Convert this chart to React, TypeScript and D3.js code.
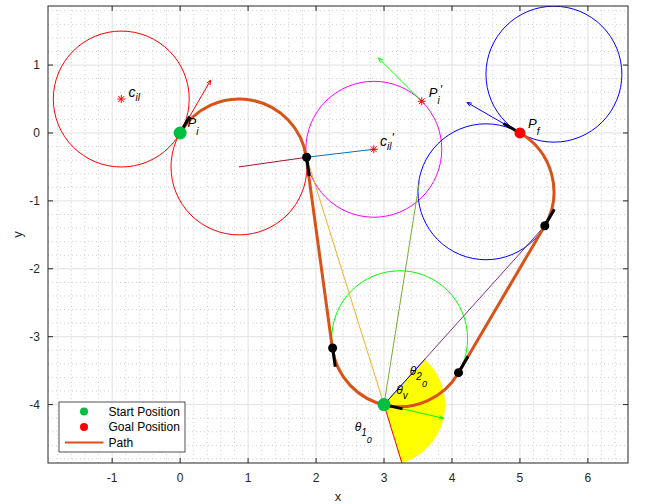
import React from 'react';
import * as d3 from 'd3';

// axis ticks
const xTicks = [-1, 0, 1, 2, 3, 4, 5, 6];
const yTicks = [-4, -3, -2, -1, 0, 1];

// turning circles (centre x, centre y, radius)
const circleNames = ['startLeft', 'startRight', 'inter', 'via', 'goalLower', 'goalUpper'];
const circleCx = [-0.866, 0.866, 2.85, 3.23, 4.5, 5.5];
const circleCy = [0.5, -0.5, -0.24, -3.03, -0.866, 0.866];
const circleR = [1, 1, 1, 1, 1, 1];

// path: arcs joined by straight tangent segments (angles in degrees)
const arcCx = [0.866, 3.23, 4.5];
const arcCy = [-0.5, -3.03, -0.866];
const arcR = [1, 1, 1];
const arcFrom = [150, 187.8, -30];
const arcTo = [8.1, 330, 60];
const arcCcw = [false, true, true];

// tangent points on the path
const tangentX = [1.861, 2.244, 4.096, 5.366];
const tangentY = [-0.358, -3.166, -3.53, -1.366];

// heading ticks along the path
const headX = [0, 1.861, 2.244, 3, 4.096, 5.366, 5];
const headY = [0, -0.358, -3.166, -4, -3.53, -1.366, 0];
const headDeg = [60, -82, -82, -13, 60, 60, 150];

// quiver arrows (origin, angle)
const arrowNames = ['pi', 'piPrime', 'pf', 'via'];
const arrowX = [0, 3.555, 5, 3];
const arrowY = [0, 0.467, 0, -4];
const arrowDeg = [60, 135, 150, -13];
const arrowLen = 0.9;

// construction segments
const segNames = ['radius', 'centre', 'toVia', 'olive', 'toGoal'];
const segX1 = [0.866, 1.861, 1.861, 3, 3];
const segY1 = [-0.5, -0.358, -0.358, -4, -4];
const segX2 = [1.861, 2.85, 3, 3.52, 5.366];
const segY2 = [-0.358, -0.24, -4, -0.72, -1.366];

// angle wedge at the via point
const wedgeCx = 3;
const wedgeCy = -4;
const wedgeR = 0.9;
const wedgeFrom = -73;
const wedgeTo = 48;

// asterisk markers
const starX = [-0.866, 2.85, 3.555];
const starY = [0.5, -0.24, 0.467];

const startPos = [0, 0];
const goalPos = [5, 0];
const viaPos = [3, -4];

const W = 645;
const H = 504;
const L = 48, T = 6, R = 628, B = 463;
const FONT = '"Liberation Sans", Arial, Helvetica, sans-serif';

const circleColor: Record<string, string> = {
  startLeft: '#ff0000', startRight: '#ff0000', inter: '#ff00ff',
  via: '#00ff00', goalLower: '#0000ff', goalUpper: '#0000ff',
};
const arrowColor: Record<string, string> = {
  pi: '#ff0000', piPrime: '#00ff00', pf: '#0000ff', via: '#00ff00',
};
const segColor: Record<string, string> = {
  radius: '#A2142F', centre: '#0072BD', toVia: '#EDB120', olive: '#77AC30', toGoal: '#7E2F8E',
};

const rad = (d: number) => (d * Math.PI) / 180;

export default function App() {
  const x = d3.scaleLinear().domain([-1.944, 6.59]).range([L, R]);
  const y = d3.scaleLinear().domain([-4.86, 1.87]).range([B, T]);
  const k = x(1) - x(0);

  const minorX = d3.range(-1.8, 6.6, 0.2).filter(v => Math.abs(v - Math.round(v)) > 1e-6);
  const minorY = d3.range(-4.8, 1.87, 0.2).filter(v => Math.abs(v - Math.round(v)) > 1e-6);

  const p = d3.path();
  p.moveTo(x(startPos[0]), y(startPos[1]));
  arcCx.forEach((cx, i) => {
    p.arc(x(cx), y(arcCy[i]), arcR[i] * k, -rad(arcFrom[i]), -rad(arcTo[i]), arcCcw[i]);
  });

  const wedge = d3.path();
  wedge.moveTo(x(wedgeCx), y(wedgeCy));
  wedge.arc(x(wedgeCx), y(wedgeCy), wedgeR * k, -rad(wedgeFrom), -rad(wedgeTo), true);
  wedge.closePath();

  const star = (cx: number, cy: number, key: number) => {
    const s = 4;
    const d = 2.9;
    return (
      <g key={key} stroke="#ff0000" strokeWidth={1}>
        <line x1={cx - s} y1={cy} x2={cx + s} y2={cy} />
        <line x1={cx} y1={cy - s} x2={cx} y2={cy + s} />
        <line x1={cx - d} y1={cy - d} x2={cx + d} y2={cy + d} />
        <line x1={cx - d} y1={cy + d} x2={cx + d} y2={cy - d} />
      </g>
    );
  };

  const label = (tx: number, ty: number, parts: [string, number, number][], key: string) => (
    <text key={key} x={x(tx)} y={y(ty)} fontFamily={FONT} fontStyle="italic" fill="#000">
      {parts.map(([s, size, dy], i) => (
        <tspan key={i} fontSize={size} dy={dy}>{s}</tspan>
      ))}
    </text>
  );

  return (
    <svg width={W} height={H} style={{ position: 'absolute', left: 0, top: 0, background: '#fff' }}>
      <defs>
        <clipPath id="plotClip">
          <rect x={L} y={T} width={R - L} height={B - T} />
        </clipPath>
      </defs>
      <rect x={0} y={0} width={W} height={H} fill="#fff" />

      {/* grid */}
      <g>
        {minorX.map((v, i) => (
          <line key={'mx' + i} x1={x(v)} x2={x(v)} y1={T} y2={B} stroke="#c4c4c4" strokeWidth={0.8} strokeDasharray="1,3" />
        ))}
        {minorY.map((v, i) => (
          <line key={'my' + i} x1={L} x2={R} y1={y(v)} y2={y(v)} stroke="#c4c4c4" strokeWidth={0.8} strokeDasharray="1,3" />
        ))}
        {xTicks.map(v => (
          <line key={'gx' + v} x1={x(v)} x2={x(v)} y1={T} y2={B} stroke="#e1e1e1" strokeWidth={1} />
        ))}
        {yTicks.map(v => (
          <line key={'gy' + v} x1={L} x2={R} y1={y(v)} y2={y(v)} stroke="#e1e1e1" strokeWidth={1} />
        ))}
      </g>

      <g clipPath="url(#plotClip)">
        {/* circles */}
        {circleNames.map((n, i) => (
          <circle key={n} cx={x(circleCx[i])} cy={y(circleCy[i])} r={circleR[i] * k}
            fill="none" stroke={circleColor[n]} strokeWidth={1} />
        ))}

        {/* construction segments */}
        {segNames.map((n, i) => (
          <line key={n} x1={x(segX1[i])} y1={y(segY1[i])} x2={x(segX2[i])} y2={y(segY2[i])}
            stroke={segColor[n]} strokeWidth={1} />
        ))}

        {/* wedge */}
        <path d={wedge.toString()} fill="#ffff00" stroke="none" />
        <line x1={x(wedgeCx)} y1={y(wedgeCy)}
          x2={x(wedgeCx + wedgeR * Math.cos(rad(wedgeFrom)))} y2={y(wedgeCy + wedgeR * Math.sin(rad(wedgeFrom)))}
          stroke="#ff0000" strokeWidth={1} />
        <line x1={x(wedgeCx)} y1={y(wedgeCy)}
          x2={x(wedgeCx + wedgeR * Math.cos(rad(wedgeTo)))} y2={y(wedgeCy + wedgeR * Math.sin(rad(wedgeTo)))}
          stroke="#0000ff" strokeWidth={1} />

        {/* quiver arrows */}
        {arrowNames.map((n, i) => {
          const x0 = x(arrowX[i]);
          const y0 = y(arrowY[i]);
          const x1 = x(arrowX[i] + arrowLen * Math.cos(rad(arrowDeg[i])));
          const y1 = y(arrowY[i] + arrowLen * Math.sin(rad(arrowDeg[i])));
          const a = Math.atan2(y1 - y0, x1 - x0);
          const h = 5;
          const s = rad(22);
          return (
            <g key={n} stroke={arrowColor[n]} strokeWidth={1} fill="none">
              <line x1={x0} y1={y0} x2={x1} y2={y1} />
              <polyline points={`${x1 - h * Math.cos(a - s)},${y1 - h * Math.sin(a - s)} ${x1},${y1} ${x1 - h * Math.cos(a + s)},${y1 - h * Math.sin(a + s)}`} />
            </g>
          );
        })}

        {/* path */}
        <path d={p.toString()} fill="none" stroke="#D95319" strokeWidth={3} />

        {/* heading ticks */}
        {headX.map((hx, i) => (
          <line key={'h' + i} x1={x(hx)} y1={y(headY[i])}
            x2={x(hx + 0.28 * Math.cos(rad(headDeg[i])))} y2={y(headY[i] + 0.28 * Math.sin(rad(headDeg[i])))}
            stroke="#000" strokeWidth={3} />
        ))}

        {/* tangent points */}
        {tangentX.map((tx, i) => (
          <circle key={'t' + i} cx={x(tx)} cy={y(tangentY[i])} r={4.5} fill="#000" />
        ))}

        {/* asterisks */}
        {starX.map((sx, i) => star(x(sx), y(starY[i]), i))}

        {/* start / goal */}
        <circle cx={x(startPos[0])} cy={y(startPos[1])} r={6.5} fill="#00bf40" />
        <circle cx={x(viaPos[0])} cy={y(viaPos[1])} r={6.5} fill="#00bf40" />
        <circle cx={x(goalPos[0])} cy={y(goalPos[1])} r={5.5} fill="#ff0000" />

        {/* labels */}
        {label(-0.76, 0.53, [['c', 14, 0], ['il', 10, 4]], 'cil')}
        {label(0.11, 0.09, [['P', 13, 0], ['i', 10, 8]], 'pi')}
        {label(3.66, 0.53, [['P', 13, 0], ['i', 10, 7], ["'", 12, -10]], 'pip')}
        {label(2.94, -0.19, [['c', 14, 0], ['il', 10, 4], ["'", 12, -8]], 'cilp')}
        {label(5.12, 0.07, [['P', 13, 0], ['f', 10, 7]], 'pf')}
        {label(3.18, -3.84, [['θ', 12, 0], ['v', 10, 5]], 'tv')}
        {label(3.38, -3.56, [['θ', 12, 0], ['2', 10, 5], ['0', 9, 7]], 't2')}
        {label(2.57, -4.39, [['θ', 12, 0], ['1', 10, 5], ['0', 9, 7]], 't1')}
      </g>

      {/* axes box and ticks */}
      <rect x={L} y={T} width={R - L} height={B - T} fill="none" stroke="#262626" strokeWidth={1} />
      {xTicks.map(v => (
        <g key={'tx' + v}>
          <line x1={x(v)} x2={x(v)} y1={B} y2={B - 5} stroke="#262626" />
          <line x1={x(v)} x2={x(v)} y1={T} y2={T + 5} stroke="#262626" />
          <text x={x(v)} y={B + 19} textAnchor="middle" fontFamily={FONT} fontSize={12} fill="#262626">{v}</text>
        </g>
      ))}
      {yTicks.map(v => (
        <g key={'ty' + v}>
          <line x1={L} x2={L + 5} y1={y(v)} y2={y(v)} stroke="#262626" />
          <line x1={R} x2={R - 5} y1={y(v)} y2={y(v)} stroke="#262626" />
          <text x={L - 8} y={y(v) + 4} textAnchor="end" fontFamily={FONT} fontSize={12} fill="#262626">{v}</text>
        </g>
      ))}
      <text x={(L + R) / 2 + 0} y={H - 3} textAnchor="middle" fontFamily={FONT} fontSize={13} fill="#262626">x</text>
      <text transform={`translate(22, ${(T + B) / 2}) rotate(-90)`} textAnchor="middle" fontFamily={FONT} fontSize={13} fill="#262626">y</text>

      {/* legend */}
      <g fontFamily={FONT} fontSize={12} fill="#000">
        <rect x={59} y={402} width={126} height={50} fill="#fff" stroke="#262626" strokeWidth={0.8} />
        <circle cx={84} cy={411.5} r={4} fill="#00bf40" />
        <text x={108.5} y={415.5}>Start Position</text>
        <circle cx={84} cy={427} r={4} fill="#ff0000" />
        <text x={108.5} y={431}>Goal Position</text>
        <line x1={65} x2={103.5} y1={442.5} y2={442.5} stroke="#D95319" strokeWidth={2} />
        <text x={108.5} y={446.5}>Path</text>
      </g>
    </svg>
  );
}
